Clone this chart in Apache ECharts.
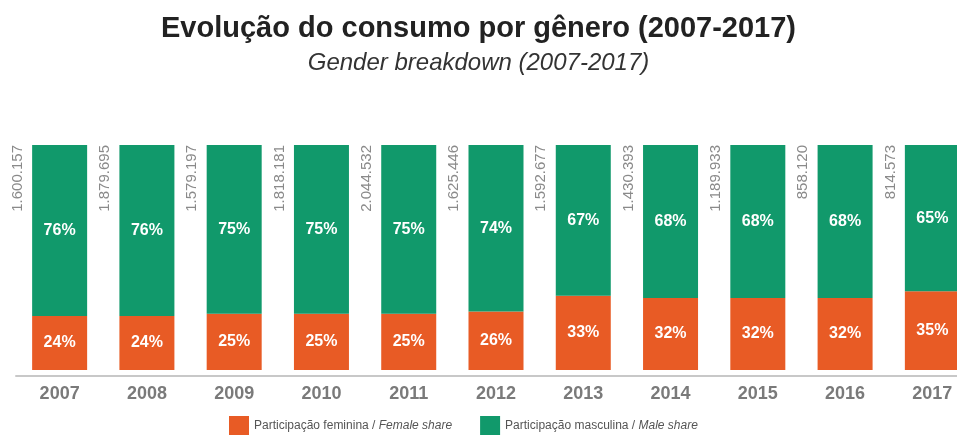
<!DOCTYPE html>
<html>
<head>
<meta charset="utf-8">
<script src="https://cdn.jsdelivr.net/npm/echarts@6/dist/echarts.min.js"></script>
<style>
  html, body { margin: 0; padding: 0; background: #fff; }
  #chart { width: 957px; height: 438px; }
</style>
</head>
<body>
<div id="chart"></div>
<script>
const years = ['2007', '2008', '2009', '2010', '2011', '2012', '2013', '2014', '2015', '2016', '2017']
const femaleShare = [24, 24, 25, 25, 25, 26, 33, 32, 32, 32, 35]
const maleShare = [76, 76, 75, 75, 75, 74, 67, 68, 68, 68, 65]
const totals = [1600157, 1879695, 1579197, 1818181, 2044532, 1625446, 1592677, 1430393, 1189933, 858120, 814573]

const GREEN = '#11996b'
const ORANGE = '#e85b25'
const SANS = '"Liberation Sans", Arial, sans-serif'

// 1600157 -> 1.600.157
const fmtDots = (n) => String(n).replace(/\B(?=(\d{3})+(?!\d))/g, '.')

const chart = echarts.init(document.getElementById('chart'))

const pctLabel = {
  show: true,
  position: 'inside',
  color: '#fff',
  fontFamily: SANS,
  fontWeight: 'bold',
  fontSize: 16,
  formatter: (p) => p.value + '%',
}

chart.setOption({
  animation: false,
  title: {
    text: 'Evolução do consumo por gênero (2007-2017)',
    subtext: 'Gender breakdown (2007-2017)',
    left: 'center',
    top: 8,
    itemGap: 4,
    textStyle: { color: '#222', fontFamily: SANS, fontWeight: 'bold', fontSize: 29, lineHeight: 32 },
    subtextStyle: { color: '#333', fontFamily: SANS, fontStyle: 'italic', fontSize: 24, lineHeight: 28 },
  },
  legend: {
    top: 411,
    left: 224,
    itemWidth: 20,
    itemHeight: 19,
    itemGap: 28,
    icon: 'rect',
    data: ['feminina', 'masculina'],
    formatter: (name) =>
      name === 'feminina'
        ? '{a|Participação feminina / }{b|Female share}'
        : '{a|Participação masculina / }{b|Male share}',
    textStyle: {
      rich: {
        a: { color: '#555', fontFamily: SANS, fontSize: 12 },
        b: { color: '#555', fontFamily: SANS, fontSize: 12, fontStyle: 'italic' },
      },
    },
  },
  grid: { top: 145, bottom: 62, left: 16, width: 960, outerBoundsMode: 'none', containLabel: false },
  xAxis: {
    type: 'category',
    data: years,
    axisLine: { onZero: false, lineStyle: { color: '#c8c8c8', width: 2 } },
    axisTick: { show: false },
    axisLabel: { color: '#7a7a7a', fontFamily: SANS, fontWeight: 'bold', fontSize: 18, margin: 9 },
  },
  yAxis: { type: 'value', min: -2.7, max: 100, show: false, splitLine: { show: false } },
  series: [
    {
      name: 'feminina',
      type: 'bar',
      stack: 'total',
      barWidth: 55,
      data: femaleShare,
      itemStyle: { color: ORANGE },
      label: pctLabel,
    },
    {
      name: 'masculina',
      type: 'bar',
      stack: 'total',
      barWidth: 55,
      data: maleShare,
      itemStyle: { color: GREEN },
      label: pctLabel,
    },
    {
      name: 'total',
      type: 'custom',
      data: years.map((y, i) => [i, 100, totals[i]]),
      renderItem: (params, api) => {
        const p = api.coord([api.value(0), api.value(1)])
        return {
          type: 'text',
          x: p[0] - 42,
          y: p[1],
          rotation: Math.PI / 2,
          style: {
            text: fmtDots(api.value(2)),
            align: 'right',
            verticalAlign: 'middle',
            fill: '#8a8a8a',
            font: '15px ' + SANS,
          },
        }
      },
    },
  ],
})
</script>
</body>
</html>
